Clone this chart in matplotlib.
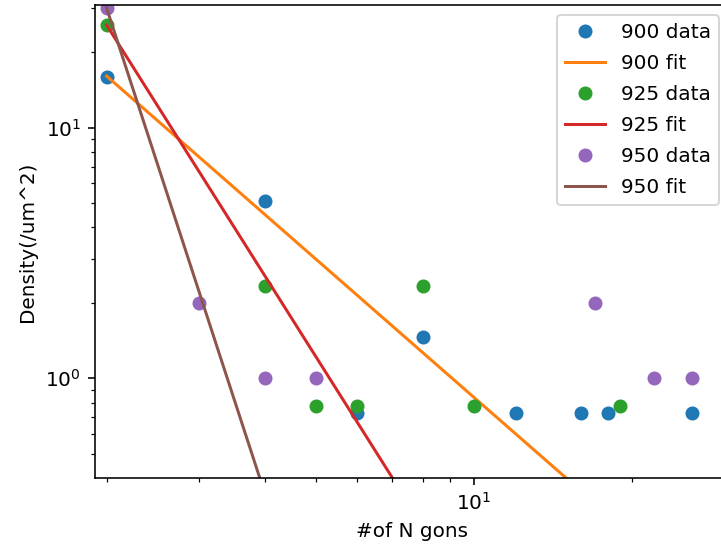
import numpy as np
import matplotlib
matplotlib.use('Agg')
import matplotlib.pyplot as plt

# Données
x_900 = [2, 4, 6, 8, 12, 16, 18, 26]
y_900 = [16.0, 5.09, 0.727, 1.455, 0.727, 0.727, 0.727, 0.727]
fit_x_900 = [2, 26]
fit_y_900 = [16.08, 0.1454]

x_925 = [2, 4, 5, 6, 8, 10, 19]
y_925 = [25.6, 2.33, 0.776, 0.776, 2.33, 0.776, 0.776]
fit_x_925 = [2, 19]
fit_y_925 = [25.7, 0.01447]

x_950 = [2, 3, 4, 5, 17, 22, 26]
y_950 = [30.0, 2.0, 1.0, 1.0, 2.0, 1.0, 1.0]
fit_x_950 = [2, 26]
fit_y_950 = [30.06, 2.04e-6]

fig = plt.figure(figsize=(721 / 144, 548 / 144), dpi=144)
ax = fig.add_axes([95 / 721, 70.3 / 548, 634 / 721, 472.7 / 548])

ax.plot(x_900, y_900, 'o', label='900 data')
ax.plot(fit_x_900, fit_y_900, label='900 fit')
ax.plot(x_925, y_925, 'o', label='925 data')
ax.plot(fit_x_925, fit_y_925, label='925 fit')
ax.plot(x_950, y_950, 'o', label='950 data')
ax.plot(fit_x_950, fit_y_950, label='950 fit')

ax.set_xscale('log')
ax.set_yscale('log')
ax.set_xlim(1.901, 30.58)
ax.set_ylim(0.401, 30.9)

ax.set_xlabel('#of N gons')
ax.set_ylabel('Density(/um^2)')
ax.legend(loc='upper right', labelspacing=0.6)

fig.savefig('out.png', dpi=144)
